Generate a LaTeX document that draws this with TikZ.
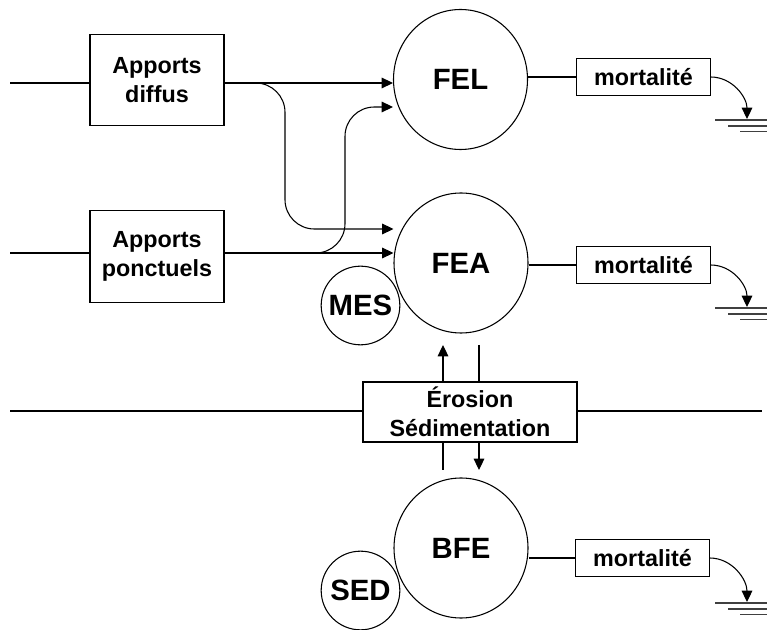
\documentclass[tikz,border=0pt]{standalone}
\usepackage{fontspec}
\setmainfont{Liberation Sans}
\usetikzlibrary{arrows.meta, shapes.geometric}
\newcommand{\bigtxt}{\fontsize{22}{26}\selectfont\bfseries}
\newcommand{\smalltxt}{\fontsize{17.5}{21.5}\selectfont\bfseries}

\begin{document}
\begin{tikzpicture}[
  x=0.75pt, y=-0.75pt,
  src/.style={draw, rectangle, minimum width=100.5pt, minimum height=68.5pt, align=center, font=\smalltxt, inner sep=0pt},
  pool/.style={draw, ellipse, minimum width=100.5pt, minimum height=105pt, font=\bigtxt, inner sep=0pt},
  part/.style={draw, circle, minimum size=59pt, font=\bigtxt, inner sep=0pt},
  loss/.style={draw, rectangle, minimum width=100pt, minimum height=27.5pt, font=\smalltxt, inner sep=0pt},
  arr/.style={-{Triangle[length=8.5pt, width=8pt]}},
  line width=0.8pt
]
\useasboundingbox (0,0) rectangle (767,630);

% sources
\node[src] (diffus) at (157,80) {Apports\\ diffus};
\node[src] (ponct) at (157,256.5) {Apports\\ ponctuels};

% compartments
\node[pool] (fel) at (460.5,79.5) {FEL};
\node[pool] (fea) at (461,263) {FEA};
\node[pool] (bfe) at (461,548) {BFE};
\node[part] (mes) at (360.5,305.5) {MES};
\node[part] (sed) at (360.5,590.5) {SED};
\node[draw, rectangle, minimum width=160.5pt, minimum height=45pt, align=center, font=\smalltxt, inner sep=0pt] (eros) at (470,412) {Érosion\\ Sédimentation};

% losses
\node[loss] (m1) at (643.5,77) {mortalité};
\node[loss] (m2) at (643.5,265) {mortalité};
\node[loss] (m3) at (642.5,558) {mortalité};

\coordinate (inD) at (10,83);
\coordinate (inP) at (10,253);
\coordinate (inE) at (10,411);
\coordinate (outE) at (762,411);
\coordinate (jD) at (285,229);
\coordinate (jP) at (345,107);
\coordinate (up) at (443,345);
\coordinate (dn) at (479,470);
\coordinate (g1) at (747,119);
\coordinate (g2) at (747,307);
\coordinate (g3) at (747,602);

% inputs
\draw (inD) -- (inD -| diffus.west);
\draw[arr] (inD -| diffus.east) -- (inD -| fel.west);
\draw[arr, rounded corners=22pt] (inD -| diffus.east) -| (jD) -- (jD -| fea.west);
\draw (inP) -- (inP -| ponct.west);
\draw[arr] (inP -| ponct.east) -- (inP -| fea.west);
\draw[arr, rounded corners=22pt] (inP -| ponct.east) -| (jP) -- (jP -| fel.west);

% exchange with sediment
\draw (inE) -- (inE -| eros.west);
\draw (inE -| eros.east) -- (outE);
\draw[arr] (up |- eros.north) -- (up);
\draw (dn |- up) -- (dn |- eros.north);
\draw (up |- eros.south) -- (up |- dn);
\draw[arr] (dn |- eros.south) -- (dn);

% mortality
\draw (m1.west -| fel.east) -- (m1.west);
\draw (m2.west -| fea.east) -- (m2.west);
\draw (m3.west -| bfe.east) -- (m3.west);
\foreach \m/\g in {m1/g1, m2/g2, m3/g3} {
  \draw[arr] (\m.east) to[out=0, in=90] (\g);
  \draw[black!75] (\g) ++(-32,1) -- ++(52,0);
  \draw[black!75] (\g) ++(-19,7) -- ++(39,0);
  \draw[black!75] (\g) ++(-7,12.5) -- ++(27,0);
}
\end{tikzpicture}
\end{document}
